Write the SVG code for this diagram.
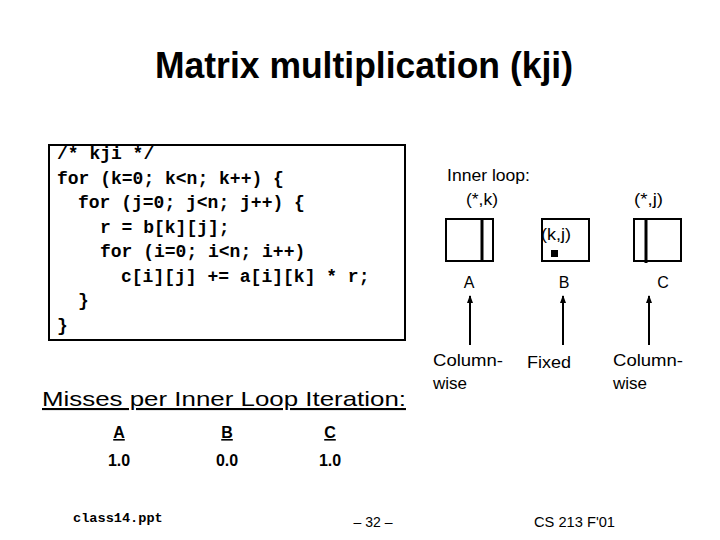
<svg xmlns="http://www.w3.org/2000/svg" width="720" height="540" viewBox="0 0 720 540">
<defs>
<style>
.code{font-family:"Liberation Mono","Courier New",monospace;font-weight:bold;font-size:18px;fill:#000}
.sans{font-family:"Liberation Sans",Arial,sans-serif;fill:#000}
.box{fill:none;stroke:#000;stroke-width:2}
.col{stroke:#000;stroke-width:3}
.arrow{stroke:#000;stroke-width:2;fill:none}
</style>
<marker id="ah" markerWidth="8" markerHeight="8" refX="7" refY="4" orient="auto" markerUnits="userSpaceOnUse" viewBox="0 0 8 8">
<path d="M0,1 L8,4 L0,7 Z" fill="#000"/>
</marker>
</defs>
<rect width="720" height="540" fill="#fff"/>
<g id="title"><text class="sans" x="364" y="78" font-size="36" font-weight="bold" text-anchor="middle" textLength="418" lengthAdjust="spacingAndGlyphs">Matrix multiplication (kji)</text></g>
<g id="code">
<rect class="box" x="49" y="145" width="356" height="195"/>
<text class="code" x="57" y="159">/* kji */</text>
<text class="code" x="57" y="184">for (k=0; k&lt;n; k++) {</text>
<text class="code" x="78" y="208">for (j=0; j&lt;n; j++) {</text>
<text class="code" x="100" y="233">r = b[k][j];</text>
<text class="code" x="100" y="257">for (i=0; i&lt;n; i++)</text>
<text class="code" x="121" y="282">c[i][j] += a[i][k] * r;</text>
<text class="code" x="78" y="306">}</text>
<text class="code" x="57" y="331">}</text>
</g>
<g id="inner-label"><text class="sans" x="447" y="181" font-size="17" textLength="83" lengthAdjust="spacingAndGlyphs">Inner loop:</text></g>
<g id="matrixA">
<text class="sans" x="466" y="205" font-size="16" textLength="32" lengthAdjust="spacingAndGlyphs">(*,k)</text>
<rect class="box" x="446" y="219" width="47" height="42"/>
<line class="col" x1="482" y1="219" x2="482" y2="261"/>
<text class="sans" x="469" y="288" font-size="16" text-anchor="middle">A</text>
</g>
<g id="matrixB">
<rect class="box" x="542" y="219" width="47" height="42"/>
<text class="sans" x="541" y="240" font-size="16" textLength="30" lengthAdjust="spacingAndGlyphs">(k,j)</text>
<rect x="551" y="250" width="7" height="7" fill="#000"/>
<text class="sans" x="564" y="288" font-size="16" text-anchor="middle">B</text>
</g>
<g id="matrixC">
<text class="sans" x="634" y="205" font-size="16" textLength="29" lengthAdjust="spacingAndGlyphs">(*,j)</text>
<rect class="box" x="634" y="219" width="47" height="42"/>
<line class="col" x1="646" y1="219" x2="646" y2="263"/>
<text class="sans" x="663" y="288" font-size="16" text-anchor="middle">C</text>
</g>
<g id="connectors">
<line class="arrow" x1="470" y1="345" x2="470" y2="296" marker-end="url(#ah)"/>
<line class="arrow" x1="563" y1="345" x2="563" y2="296" marker-end="url(#ah)"/>
<line class="arrow" x1="649" y1="345" x2="649" y2="296" marker-end="url(#ah)"/>
</g>
<g id="labels">
<text class="sans" x="433" y="366" font-size="17" textLength="70" lengthAdjust="spacingAndGlyphs">Column-</text>
<text class="sans" x="433" y="389" font-size="17">wise</text>
<text class="sans" x="527" y="368" font-size="17" textLength="44" lengthAdjust="spacingAndGlyphs">Fixed</text>
<text class="sans" x="613" y="366" font-size="17" textLength="70" lengthAdjust="spacingAndGlyphs">Column-</text>
<text class="sans" x="613" y="389" font-size="17">wise</text>
</g>
<g id="misses">
<text class="sans" x="42" y="406" font-size="21" text-decoration="underline" textLength="364" lengthAdjust="spacingAndGlyphs">Misses per Inner Loop Iteration:</text>
<text class="sans" x="119" y="438" font-size="16" font-weight="bold" text-anchor="middle" text-decoration="underline">A</text>
<text class="sans" x="227" y="438" font-size="16" font-weight="bold" text-anchor="middle" text-decoration="underline">B</text>
<text class="sans" x="330" y="438" font-size="16" font-weight="bold" text-anchor="middle" text-decoration="underline">C</text>
<text class="sans" x="119" y="466" font-size="16" font-weight="bold" text-anchor="middle">1.0</text>
<text class="sans" x="227" y="466" font-size="16" font-weight="bold" text-anchor="middle">0.0</text>
<text class="sans" x="330" y="466" font-size="16" font-weight="bold" text-anchor="middle">1.0</text>
</g>
<g id="footer">
<text class="code" x="73" y="522" style="font-size:13.6px">class14.ppt</text>
<text class="sans" x="373" y="527" font-size="14" text-anchor="middle">– 32 –</text>
<text class="sans" x="534" y="527" font-size="14.5" textLength="81" lengthAdjust="spacingAndGlyphs">CS 213 F'01</text>
</g>
</svg>
